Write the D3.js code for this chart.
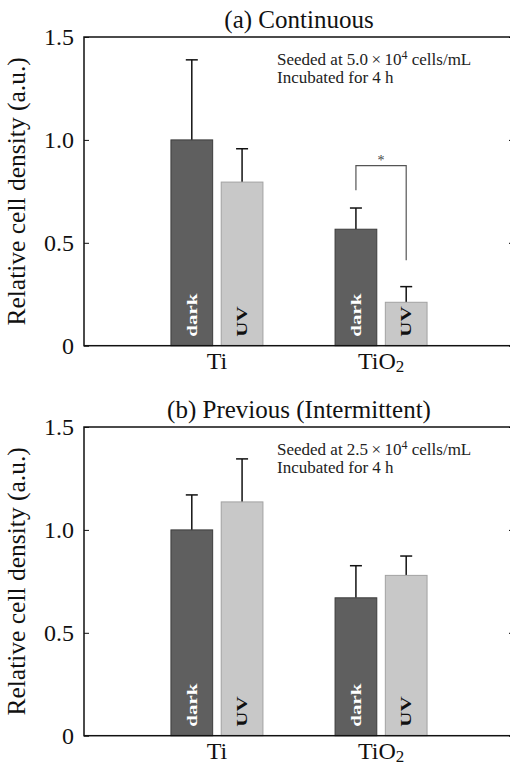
<!DOCTYPE html>
<html>
<head>
<meta charset="utf-8">
<script src="https://cdn.jsdelivr.net/npm/d3@7"></script>
<style>
  body { margin: 0; background: #fff; }
  svg text { font-family: "Liberation Serif", "Times New Roman", Times, "DejaVu Serif", serif !important; }
</style>
</head>
<body>
<div id="chart"></div>
<script>
const width = 510
const height = 767
const serif = '"Liberation Serif", "Times New Roman", Times, "DejaVu Serif", serif'

// data
const categories = ['Ti', 'TiO2']
const conditions = ['dark', 'UV']
const panelTitles = ['(a) Continuous', '(b) Previous (Intermittent)']
const seedDensity = ['5.0', '2.5']
// mean values [Ti, TiO2] per panel
const darkMeans = [[1.0, 0.566], [1.0, 0.67]]
const uvMeans = [[0.795, 0.211], [1.136, 0.779]]
// upper end of error bar
const darkErrTop = [[1.389, 0.669], [1.17, 0.826]]
const uvErrTop = [[0.957, 0.287], [1.345, 0.873]]
const yTicks = [0, 0.5, 1.0, 1.5]
// significance bracket in panel (a): left leg start, top, right leg end
const bracketA = [0.755, 0.875, 0.415]

const margin = { left: 84 }
const plotW = 430
const plotH = 308.7
const panelTops = [37, 427]

const darkFill = '#5f5f5f'
const darkStroke = '#3c3c3c'
const uvFill = '#c8c8c8'
const uvStroke = '#a2a2a2'

const svg = d3.select('#chart')
  .append('svg')
  .attr('width', width)
  .attr('height', height)
  .attr('font-family', serif)

const x = d3.scalePoint().domain(categories).range([0, plotW]).padding(0.81)
const xIn = d3.scaleBand().domain(conditions).range([-46, 46]).paddingInner(0.17)
const y = d3.scaleLinear().domain([0, 1.5]).range([plotH, 0])

function fmt(d) {
  return d === 0 ? '0' : d3.format('.1f')(d)
}

function drawPanel(p) {
  const g = svg.append('g').attr('transform', `translate(${margin.left},${panelTops[p]})`)

  const rows = categories.map((c, i) => [
    { cat: c, cond: 'dark', v: darkMeans[p][i], e: darkErrTop[p][i] },
    { cat: c, cond: 'UV', v: uvMeans[p][i], e: uvErrTop[p][i] }
  ]).flat()
  const cx = d => x(d.cat) + xIn(d.cond) + xIn.bandwidth() / 2

  // error bars (upper only)
  const eb = g.selectAll('.err').data(rows).enter().append('g')
  eb.append('line')
    .attr('x1', cx).attr('x2', cx)
    .attr('y1', d => y(d.v))
    .attr('y2', d => y(d.e))
    .attr('stroke', '#111').attr('stroke-width', 1.5)
  eb.append('line')
    .attr('x1', d => cx(d) - 6)
    .attr('x2', d => cx(d) + 6)
    .attr('y1', d => y(d.e))
    .attr('y2', d => y(d.e))
    .attr('stroke', '#111').attr('stroke-width', 1.5)

  // bars
  g.selectAll('.bar').data(rows).enter().append('rect')
    .attr('x', d => x(d.cat) + xIn(d.cond))
    .attr('y', d => y(d.v))
    .attr('width', xIn.bandwidth())
    .attr('height', d => plotH - y(d.v))
    .attr('fill', d => d.cond === 'dark' ? darkFill : uvFill)
    .attr('stroke', d => d.cond === 'dark' ? darkStroke : uvStroke)
    .attr('stroke-width', 1)

  // labels inside bars
  g.selectAll('.blab').data(rows).enter().append('text')
    .attr('transform', d => `translate(${cx(d) + 5},${plotH - 9}) rotate(-90) scale(1.4,1)`)
    .attr('font-size', 15)
    .attr('font-weight', 'bold')
    .attr('fill', d => d.cond === 'dark' ? '#fff' : '#111')
    .text(d => d.cond)

  // frame
  g.append('rect')
    .attr('x', 0).attr('y', 0)
    .attr('width', plotW).attr('height', plotH)
    .attr('fill', 'none')
    .attr('stroke', '#111').attr('stroke-width', 1.5)

  // y axis, inward ticks
  const yAxis = g.append('g')
    .call(d3.axisLeft(y).tickValues(yTicks).tickSize(-5).tickPadding(10).tickFormat(fmt))
  yAxis.attr('font-family', serif)
  yAxis.select('.domain').remove()
  yAxis.selectAll('text').attr('font-size', 24).attr('fill', '#111')
  yAxis.selectAll('line').attr('stroke', '#111')

  const yAxisR = g.append('g').attr('transform', `translate(${plotW},0)`)
    .call(d3.axisRight(y).tickValues(yTicks).tickSize(-5).tickFormat(''))
  yAxisR.select('.domain').remove()

  // category labels
  const cl = g.selectAll('.cat').data(categories).enter().append('text')
    .attr('x', d => x(d))
    .attr('y', plotH + 23)
    .attr('text-anchor', 'middle')
    .attr('font-size', 24)
    .attr('fill', '#111')
  cl.append('tspan').text(d => d.replace('2', ''))
  cl.filter(d => d.endsWith('2')).append('tspan')
    .attr('font-size', 17).attr('dy', 3).text('2')

  // y label
  g.append('text')
    .attr('transform', `translate(-59,${plotH / 2}) rotate(-90)`)
    .attr('text-anchor', 'middle')
    .attr('font-size', 25.5)
    .attr('fill', '#111')
    .text('Relative cell density (a.u.)')

  // title
  svg.append('text')
    .attr('x', margin.left + plotW / 2)
    .attr('y', panelTops[p] - 9)
    .attr('text-anchor', 'middle')
    .attr('font-size', 25)
    .attr('fill', '#111')
    .text(panelTitles[p])

  // note
  const note = g.append('text')
    .attr('x', 193).attr('y', 28)
    .attr('font-size', 17)
    .attr('fill', '#222')
  note.append('tspan').text(`Seeded at ${seedDensity[p]}\u2009\u00d7\u200910`)
  note.append('tspan').attr('font-size', 12).attr('dy', -6).text('4')
  note.append('tspan').attr('dy', 6).text(' cells/mL')
  g.append('text')
    .attr('x', 193).attr('y', 45.5)
    .attr('font-size', 17)
    .attr('fill', '#222')
    .text('Incubated for 4 h')

  return g
}

const gA = drawPanel(0)
drawPanel(1)

// significance bracket, panel (a)
const bx0 = x('TiO2') + xIn('dark') + xIn.bandwidth() / 2
const bx1 = x('TiO2') + xIn('UV') + xIn.bandwidth() / 2
gA.append('path')
  .attr('d', d3.line()([[bx0, y(bracketA[0])], [bx0, y(bracketA[1])], [bx1, y(bracketA[1])], [bx1, y(bracketA[2])]]))
  .attr('fill', 'none')
  .attr('stroke', '#555')
  .attr('stroke-width', 1.2)
gA.append('text')
  .attr('x', (bx0 + bx1) / 2)
  .attr('y', y(bracketA[1]) - 1)
  .attr('text-anchor', 'middle')
  .attr('font-size', 14)
  .attr('fill', '#444')
  .text('*')
</script>
</body>
</html>
